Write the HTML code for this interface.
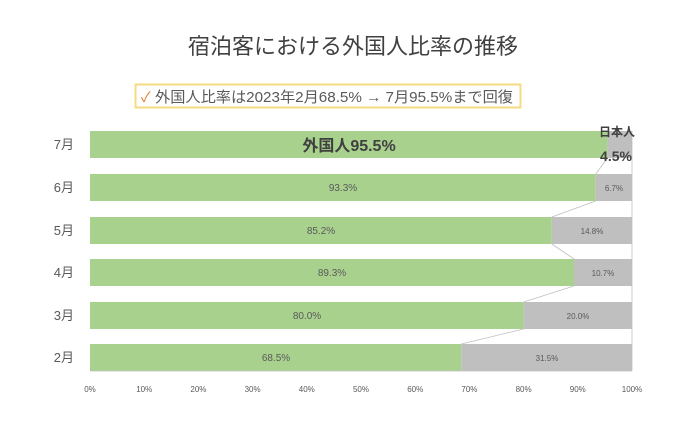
<!DOCTYPE html>
<html><head><meta charset="utf-8"><style>
body{margin:0;background:#fff;width:700px;height:424px;overflow:hidden;font-family:"Liberation Sans","Noto Sans CJK JP",sans-serif}
</style></head><body>
<svg width="700" height="424" xmlns="http://www.w3.org/2000/svg" font-family="Liberation Sans, Noto Sans CJK JP, sans-serif">
<text x="353" y="54" font-size="22" fill="#404040" text-anchor="middle">宿泊客における外国人比率の推移</text>
<rect x="135.5" y="84.5" width="385" height="23" fill="#fff" stroke="#f6dc80" stroke-width="2"/>
<text x="141" y="102" font-size="14" fill="#e07b2a">✓</text>
<text x="155" y="102" font-size="14.8" fill="#595959" textLength="358" lengthAdjust="spacingAndGlyphs">外国人比率は2023年2月68.5% → 7月95.5%まで回復</text>
<g fill="#a9d18e">
<rect x="90" y="131" width="517.6" height="27"/>
<rect x="90" y="174" width="505.7" height="27"/>
<rect x="90" y="217" width="461.8" height="27"/>
<rect x="90" y="259" width="484" height="27"/>
<rect x="90" y="302" width="433.6" height="27"/>
<rect x="90" y="344" width="371.3" height="27"/>
</g>
<g fill="#bfbfbf">
<rect x="607.6" y="131" width="24.4" height="27"/>
<rect x="595.7" y="174" width="36.3" height="27"/>
<rect x="551.8" y="217" width="80.2" height="27"/>
<rect x="574" y="259" width="58" height="27"/>
<rect x="523.6" y="302" width="108.4" height="27"/>
<rect x="461.3" y="344" width="170.7" height="27"/>
</g>
<g stroke="#bfbfbf" stroke-width="0.8" fill="none">
<line x1="607.6" y1="158" x2="595.7" y2="174"/>
<line x1="595.7" y1="201" x2="551.8" y2="217"/>
<line x1="551.8" y1="244" x2="574" y2="259"/>
<line x1="574" y1="286" x2="523.6" y2="302"/>
<line x1="523.6" y1="329" x2="461.3" y2="344"/>
<line x1="632" y1="131" x2="632" y2="371"/>
<line x1="90" y1="371" x2="632" y2="371"/>
</g>
<g font-size="13" fill="#595959" text-anchor="end">
<text x="74" y="149">7月</text><text x="74" y="192">6月</text><text x="74" y="235">5月</text>
<text x="74" y="277">4月</text><text x="74" y="320">3月</text><text x="74" y="362">2月</text>
</g>
<text x="349" y="151" font-size="16" font-weight="bold" fill="#404040" text-anchor="middle">外国人95.5%</text>
<g font-size="10" fill="#595959" text-anchor="middle">
<text x="343" y="191">93.3%</text><text x="321" y="234">85.2%</text><text x="332" y="276">89.3%</text>
<text x="307" y="319">80.0%</text><text x="276" y="361">68.5%</text>
</g>
<g font-size="8" fill="#595959" text-anchor="middle">
<text x="614" y="191">6.7%</text><text x="592" y="234">14.8%</text><text x="603" y="276">10.7%</text>
<text x="578" y="319">20.0%</text><text x="547" y="361">31.5%</text>
</g>
<text x="617" y="136" font-size="12" font-weight="bold" fill="#404040" text-anchor="middle">日本人</text>
<text x="616" y="161" font-size="14" font-weight="bold" fill="#404040" text-anchor="middle">4.5%</text>
<g font-size="8" fill="#595959" text-anchor="middle">
<text x="90" y="392">0%</text><text x="144.2" y="392">10%</text><text x="198.4" y="392">20%</text>
<text x="252.6" y="392">30%</text><text x="306.8" y="392">40%</text><text x="361" y="392">50%</text>
<text x="415.2" y="392">60%</text><text x="469.4" y="392">70%</text><text x="523.6" y="392">80%</text>
<text x="577.8" y="392">90%</text><text x="632" y="392">100%</text>
</g>
</svg>
</body></html>
